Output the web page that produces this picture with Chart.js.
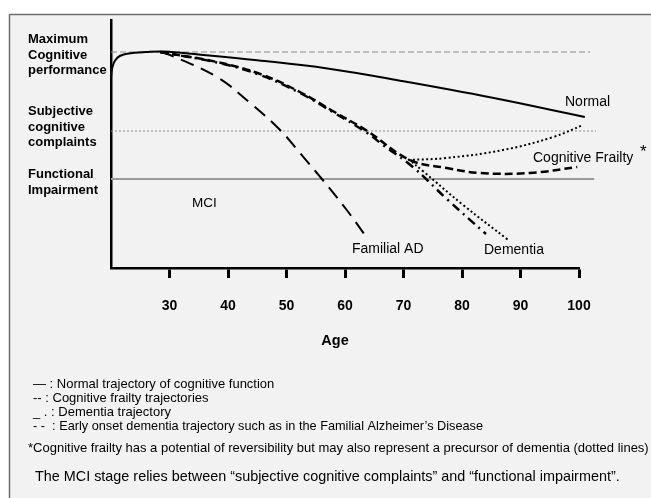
<!DOCTYPE html>
<html>
<head>
<meta charset="utf-8">
<script src="https://cdn.jsdelivr.net/npm/chart.js@4.4.1/dist/chart.umd.min.js"></script>
<style>
  html, body { margin: 0; padding: 0; background: #fff; }
  canvas { display: block; }
</style>
</head>
<body>
<canvas id="chart" width="651" height="498"></canvas>
<script>
const FONT = '"Liberation Sans", Arial, sans-serif';

// ages / scores (score is an arbitrary 0-100 scale)
const normalAge = [20, 20.2, 20.7, 21.5, 23, 26, 29, 35, 45, 57, 70, 85, 101];
const normalScore = [76, 80, 83, 84.8, 85.8, 86.4, 86.6, 85.4, 83.1, 79.8, 74.7, 68.2, 60.4];

const frailtyAge = [28.4, 38.1, 45.5, 52.3, 57.9, 63.8, 71.1, 77.4, 83.1, 91.6, 99.7];
const frailtyScore = [86.4, 82.4, 77.6, 70.4, 62.8, 54.8, 43.2, 40, 38, 38, 40.4];

const dementiaAge = [28.4, 38.1, 45.5, 52.3, 57.9, 63.8, 66.5, 71.6, 77.4, 84.1];
const dementiaScore = [86.4, 82.2, 77.2, 70, 62.4, 54, 49.2, 40.4, 27.6, 13.6];

const reversAge = [70.8, 77.4, 87, 95.6, 100.7];
const reversScore = [43.2, 44, 47.2, 52.4, 57.2];

const precursorAge = [70.8, 73.3, 80.2, 87.9];
const precursorScore = [43.6, 38.8, 25.2, 11.2];

const familialAge = [28.4, 30.1, 38.1, 43.8, 48.9, 52.3, 56.2, 60.3, 63.4];
const familialScore = [86.4, 85.2, 76.4, 66, 55.2, 46, 35.2, 23.2, 13.2];

// horizontal reference levels
const maxLevel = 86.4, complaintsLevel = 54.8, impairmentLevel = 35.6;
const ageTicks = [30, 40, 50, 60, 70, 80, 90, 100];

function pts(xs, ys) {
  return xs.map((x, i) => ({ x: x, y: ys[i] }));
}

function curve(data, width, dash) {
  return {
    data: data,
    borderColor: '#000',
    borderWidth: width,
    borderDash: dash,
    pointRadius: 0,
    fill: false,
    tension: 0.4,
    clip: false
  };
}

function level(y, endAge, color, width, dash) {
  return {
    data: [{ x: 20, y: y }, { x: endAge, y: y }],
    borderColor: color,
    borderWidth: width,
    borderDash: dash,
    pointRadius: 0,
    fill: false,
    clip: false
  };
}

const paper = {
  id: 'paper',
  beforeDraw(chart) {
    const ctx = chart.ctx;
    ctx.save();
    ctx.fillStyle = '#fff';
    ctx.fillRect(0, 0, chart.width, chart.height);
    ctx.fillStyle = '#f2f2f2';
    ctx.fillRect(9, 14, chart.width - 9, chart.height - 14);
    ctx.strokeStyle = '#6e6e6e';
    ctx.lineWidth = 1.5;
    ctx.beginPath();
    ctx.moveTo(9.5, chart.height);
    ctx.lineTo(9.5, 14.5);
    ctx.lineTo(chart.width, 14.5);
    ctx.stroke();
    ctx.restore();
  },
  afterDraw(chart) {
    const ctx = chart.ctx;
    ctx.save();
    ctx.fillStyle = '#000';
    ctx.textBaseline = 'middle';
    ctx.textAlign = 'left';

    ctx.font = 'bold 13px ' + FONT;
    [['Maximum', 39], ['Cognitive', 55], ['performance', 70],
     ['Subjective', 111], ['cognitive', 127], ['complaints', 142],
     ['Functional', 174], ['Impairment', 190]].forEach(t => ctx.fillText(t[0], 28, t[1]));

    ctx.font = '13.5px ' + FONT;
    ctx.fillText('MCI', 192, 203);
    ctx.font = '14px ' + FONT;
    ctx.fillText('Normal', 565, 102);
    ctx.fillText('Cognitive Frailty', 533, 158);
    ctx.fillText('Familial AD', 352, 249);
    ctx.fillText('Dementia', 484, 250);
    ctx.font = '17px ' + FONT;
    ctx.fillText('*', 640, 152);

    ctx.font = 'bold 14.5px ' + FONT;
    ctx.textAlign = 'center';
    ctx.fillText('Age', 335, 341);

    ctx.textAlign = 'left';
    ctx.font = '13px ' + FONT;
    ctx.fillText('\u2014 : Normal trajectory of cognitive function', 33, 384, 250);
    ctx.fillText('-- : Cognitive frailty trajectories', 33, 398);
    ctx.fillText('_ . : Dementia trajectory', 33, 412);
    ctx.fillText('- -  : Early onset dementia trajectory such as in the Familial Alzheimer\u2019s Disease', 33, 426, 450);
    ctx.fillText('*Cognitive frailty has a potential of reversibility but may also represent a precursor of dementia (dotted lines)', 28, 448, 624);
    ctx.font = '14.4px ' + FONT;
    ctx.fillText('The MCI stage relies between \u201csubjective cognitive complaints\u201d and \u201cfunctional impairment\u201d.', 35, 477, 586);
    ctx.restore();
  }
};

new Chart(document.getElementById('chart'), {
  type: 'line',
  data: {
    datasets: [
      curve(pts(normalAge, normalScore), 2, []),
      curve(pts(frailtyAge, frailtyScore), 2.5, [8, 4]),
      curve(pts(dementiaAge, dementiaScore), 2.5, [9, 5, 2, 5]),
      curve(pts(reversAge, reversScore), 2, [2, 2.5]),
      curve(pts(precursorAge, precursorScore), 2, [2, 2.5]),
      curve(pts(familialAge, familialScore), 2, [14, 8]),
      level(maxLevel, 101.9, '#8c8c8c', 1.2, [6, 3]),
      level(complaintsLevel, 102.9, '#8c8c8c', 1, [2, 2]),
      level(impairmentLevel, 102.6, '#9a9a9a', 2, [])
    ]
  },
  options: {
    responsive: false,
    animation: false,
    events: [],
    layout: { padding: { left: 111, right: 72, top: 20, bottom: 0 } },
    plugins: { legend: { display: false }, tooltip: { enabled: false } },
    scales: {
      x: {
        type: 'linear',
        min: 20,
        max: 100,
        afterFit(s) { s.height = 230; },
        afterBuildTicks(s) { s.ticks = [{ value: 20 }].concat(ageTicks.map(v => ({ value: v }))); },
        ticks: {
          color: '#000',
          padding: 20,
          font: { family: FONT, size: 14, weight: 'bold' },
          callback: v => (v === 20 ? '' : v)
        },
        grid: {
          display: true,
          drawOnChartArea: false,
          drawTicks: true,
          tickLength: 10,
          tickWidth: 3,
          tickColor: c => (c.tick && c.tick.value === 20 ? 'rgba(0,0,0,0)' : '#000')
        },
        border: { color: '#000', width: 2.5 }
      },
      y: {
        type: 'linear',
        min: 0,
        max: 99.2,
        afterFit(s) { s.width = 0; },
        ticks: { display: false },
        grid: { display: false },
        border: { color: '#000', width: 2.5 }
      }
    }
  },
  plugins: [paper]
});
</script>
</body>
</html>
